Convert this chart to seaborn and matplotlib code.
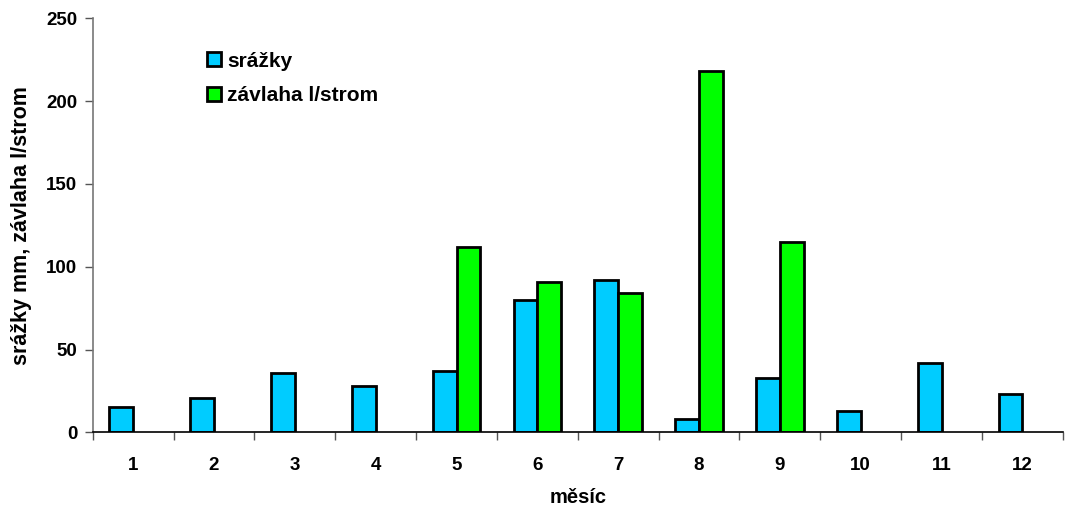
import numpy as np
import pandas as pd
import matplotlib
matplotlib.use("Agg")
import matplotlib.pyplot as plt
import seaborn as sns

months = ["1", "2", "3", "4", "5", "6", "7", "8", "9", "10", "11", "12"]
srazky = [15, 21, 36, 28, 37, 80, 92, 8, 33, 13, 42, 23]
zavlaha = [np.nan, np.nan, np.nan, np.nan, 112, 91, 84, 218, 115, np.nan, np.nan, np.nan]
series_names = ["srážky", "závlaha l/strom"]
colors = ["#00CCFF", "#00FF00"]

sns.set_theme(style="white")
plt.rcParams['font.family'] = ['Liberation Sans', 'DejaVu Sans']
plt.rcParams['font.weight'] = 'bold'
plt.rcParams['text.color'] = 'black'
plt.rcParams['axes.labelcolor'] = 'black'
plt.rcParams['xtick.labelcolor'] = 'black'
plt.rcParams['ytick.labelcolor'] = 'black'

df = pd.DataFrame({
    "month": months * 2,
    "value": srazky + zavlaha,
    "series": [series_names[0]] * 12 + [series_names[1]] * 12,
})

fig = plt.figure(figsize=(10.66, 5.08), dpi=100)
ax = fig.add_axes([0.087, 0.149, 0.91, 0.815])

sns.barplot(data=df, x="month", y="value", hue="series", order=months,
            hue_order=series_names, palette=colors, width=0.59,
            edgecolor="black", linewidth=2, saturation=1, ax=ax, errorbar=None)

ax.set_ylim(0, 250)
ax.set_xlim(-0.5, 11.5)
ax.set_yticks([0, 50, 100, 150, 200, 250])
ax.set_xticks(range(12))
ax.set_xticklabels(months)
ax.set_xticks(np.arange(-0.5, 12, 1), minor=True)
ax.tick_params(axis="x", which="major", length=0, pad=18, labelsize=13.5, labelcolor="black")
ax.tick_params(axis="x", which="minor", length=6, width=1, direction="out", color="#555555", bottom=True)
ax.tick_params(axis="y", length=6, width=1, direction="out", color="#555555", left=True,
               labelsize=13.5, pad=5, labelcolor="black")
for lab in ax.get_xticklabels() + ax.get_yticklabels():
    lab.set_fontweight("bold")

for s in ["top", "right"]:
    ax.spines[s].set_visible(False)
ax.spines["left"].set_color("#777777")
ax.spines["bottom"].set_color("black")
ax.spines["left"].set_linewidth(1.2)
ax.spines["bottom"].set_linewidth(1.2)

ax.set_xlabel("měsíc", fontsize=14.5, fontweight="bold", labelpad=10, color="black")
ax.set_ylabel("srážky mm, závlaha l/strom", fontsize=15.5, fontweight="bold", labelpad=10, color="black")

leg = ax.legend(loc="upper left", bbox_to_anchor=(0.103, 0.955), frameon=False,
                prop={"weight": "bold", "size": 15}, handlelength=0.65, handleheight=0.65,
                handletextpad=0.3, labelspacing=0.75, borderpad=0.2)
for t in leg.get_texts():
    t.set_color("black")

fig.savefig("out.png", dpi=100)
